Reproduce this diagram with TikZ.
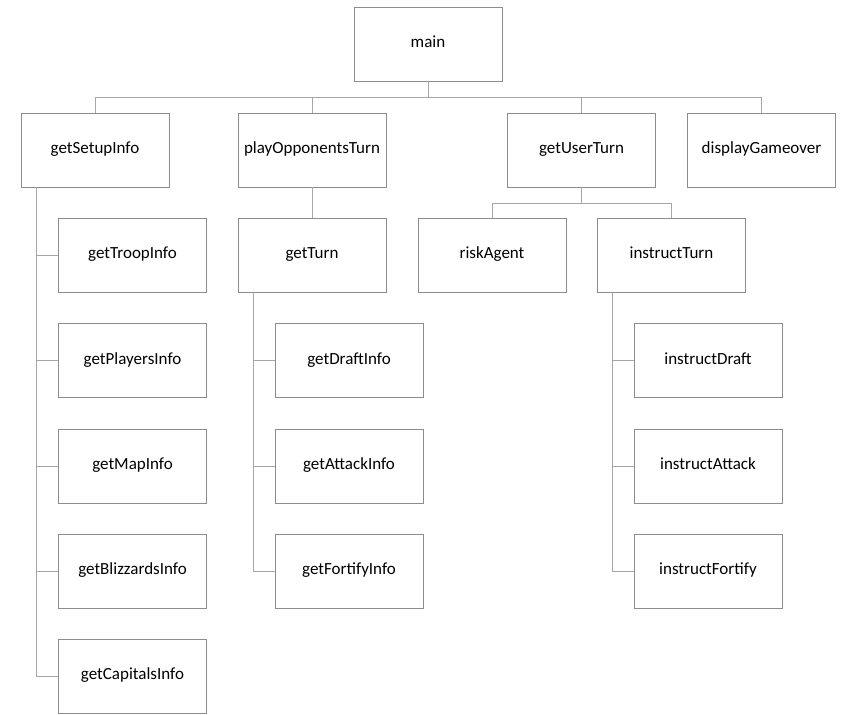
\documentclass[tikz,border=0pt]{standalone}
\usepackage{fontspec}
\setmainfont{Carlito}
\definecolor{boxline}{HTML}{8C8C8C}
\definecolor{connline}{HTML}{A6A6A6}
\definecolor{txt}{HTML}{000000}
\begin{document}
\begin{tikzpicture}[x=1pt,y=-1pt,
  fn/.style={draw=boxline,line width=0.9pt,minimum width=148pt,minimum height=74pt,inner sep=0pt,
    text height=12pt,text depth=5pt,
    font=\fontsize{17}{19}\selectfont,text=txt,fill=white},
  conn/.style={draw=connline,line width=1pt}]
\useasboundingbox[fill=white] (0,0) rectangle (855,715);
% top level
\node[fn] (main) at (428,44) {main};
\node[fn] (gs) at (95,150) {getSetupInfo};
\node[fn] (po) at (312,150) {playOpponentsTurn};
\node[fn] (gu) at (581.5,150) {getUserTurn};
\node[fn] (dg) at (761.5,150) {displayGameover};
% setup children
\node[fn] (gti) at (132.5,255) {getTroopInfo};
\node[fn] (gpi) at (132.5,360.5) {getPlayersInfo};
\node[fn] (gmi) at (132.5,466) {getMapInfo};
\node[fn] (gbi) at (132.5,571) {getBlizzardsInfo};
\node[fn] (gci) at (132.5,676) {getCapitalsInfo};
% opponents
\node[fn] (gt) at (312,255) {getTurn};
\node[fn] (gdi) at (349,360.5) {getDraftInfo};
\node[fn] (gai) at (349,466) {getAttackInfo};
\node[fn] (gfi) at (349,571) {getFortifyInfo};
% user
\node[fn] (ra) at (492,255) {riskAgent};
\node[fn] (it) at (671.5,255) {instructTurn};
\node[fn] (id) at (708,360.5) {instructDraft};
\node[fn] (ia) at (708,466) {instructAttack};
\node[fn] (ifo) at (708,571) {instructFortify};
% connectors
\coordinate (bus) at (428,97);
\coordinate (ubus) at (581.5,203);
\draw[conn] (main.south) -- (bus);
\draw[conn] (bus) -| (gs.north);
\draw[conn] (bus) -| (po.north);
\draw[conn] (bus) -| (gu.north);
\draw[conn] (bus) -| (dg.north);
\draw[conn] (po.south) -- (gt.north);
\draw[conn] (gu.south) -- (ubus);
\draw[conn] (ubus) -| (ra.north);
\draw[conn] (ubus) -| (it.north);
\foreach \c in {gti,gpi,gmi,gbi,gci}{\draw[conn] ([xshift=15.5pt]gs.south west) |- (\c.west);}
\foreach \c in {gdi,gai,gfi}{\draw[conn] ([xshift=16pt]gt.south west) |- (\c.west);}
\foreach \c in {id,ia,ifo}{\draw[conn] ([xshift=15.5pt]it.south west) |- (\c.west);}
\end{tikzpicture}
\end{document}
